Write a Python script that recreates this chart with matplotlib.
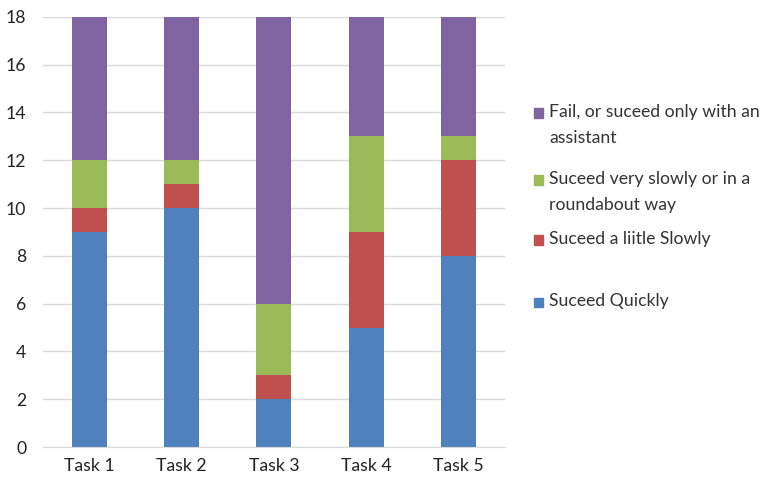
import matplotlib.pyplot as plt
import numpy as np

plt.rcParams['font.family'] = ['Lato', 'DejaVu Sans']

tasks = ['Task 1', 'Task 2', 'Task 3', 'Task 4', 'Task 5']
quickly = [9, 10, 2, 5, 8]
little_slowly = [1, 1, 1, 4, 4]
very_slowly = [2, 1, 3, 4, 1]
fail = [6, 6, 12, 5, 5]

labels = ['Suceed Quickly', 'Suceed a liitle Slowly',
          'Suceed very slowly or in a\nroundabout way',
          'Fail, or suceed only with an\nassistant']
colors = ['#4F81BD', '#C0504D', '#9BBB59', '#8064A2']
series = [quickly, little_slowly, very_slowly, fail]

fig = plt.figure(figsize=(7.74, 4.83), dpi=100)
ax = fig.add_axes([0.0556, 0.0745, 0.5964, 0.8905])

x = np.arange(len(tasks))
bottom = np.zeros(len(tasks))
for vals, col in zip(series, colors):
    ax.bar(x, vals, width=0.38, bottom=bottom, color=col, zorder=3)
    bottom += np.array(vals)

ax.set_xlim(-0.5, len(tasks) - 0.5)
ax.set_ylim(0, 18)
ax.set_yticks(range(0, 19, 2))
ax.set_xticks(x)
ax.set_xticklabels(tasks)
ax.yaxis.grid(True, color='#d9d9d9', linewidth=1, zorder=0)
for s in ['top', 'right', 'left']:
    ax.spines[s].set_visible(False)
ax.spines['bottom'].set_color('#d9d9d9')
ax.tick_params(length=0, labelsize=12.7, colors='#222222')
ax.tick_params(axis='y', pad=12)
ax.tick_params(axis='x', pad=8)

# legend, top entry first
leg_y = [113, 180, 240, 302]
for i, k in enumerate([3, 2, 1, 0]):
    y = 483 - leg_y[i]
    fig.patches.append(plt.Rectangle((534 / 774, (y - 4.5) / 483), 9 / 774, 9 / 483,
                                     transform=fig.transFigure, color=colors[k]))
    fig.text(549 / 774, (y + 9) / 483, labels[k], fontsize=12.7, color='#333333',
             va='top', ha='left', linespacing=1.75)

fig.savefig('out.png')
